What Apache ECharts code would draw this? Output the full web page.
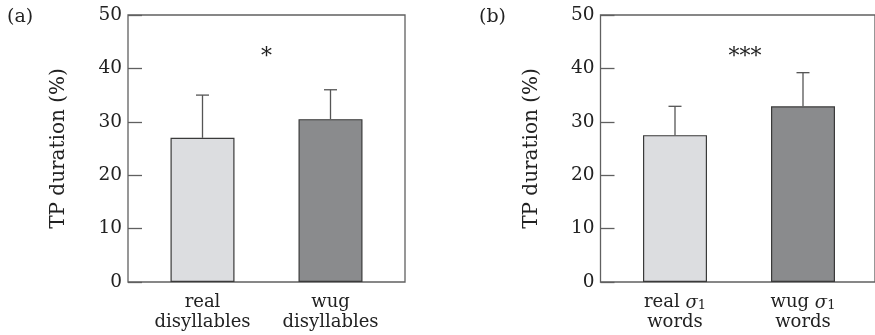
<!DOCTYPE html>
<html>
<head>
<meta charset="utf-8">
<script src="https://cdn.jsdelivr.net/npm/echarts@6/dist/echarts.min.js"></script>
<style>
  html, body { margin: 0; padding: 0; background: #fff; }
  #chart { width: 875px; height: 335px; }
</style>
</head>
<body>
<div id="chart"></div>
<script>
// Panel (a): disyllables
const catsA = ['real\ndisyllables', 'wug\ndisyllables'];
const meanA = [27, 30.5];
const upperA = [35, 36];
const sigA = '*';

// Panel (b): σ1 words
const catsB = ['real {s|σ}{sub|1}\nwords', 'wug {s|σ}{sub|1}\nwords'];
const meanB = [27.5, 32.9];
const upperB = [32.9, 39.2];
const sigB = '***';

// Y axis ticks
const yTicks = [0, 10, 20, 30, 40, 50];

const FONT = 'DejaVu Serif';
const barFills = ['#dcdde0', '#8a8b8d'];
const lineCol = '#606060';

const chart = echarts.init(document.getElementById('chart'), null, { renderer: 'canvas' });

function errRender(params, api) {
  const idx = api.value(0);
  const hi = api.coord([idx, api.value(1)]);
  const lo = api.coord([idx, api.value(2)]);
  const cap = 6.5;
  const st = { stroke: '#555', lineWidth: 1.3 };
  return {
    type: 'group',
    children: [
      { type: 'line', shape: { x1: hi[0], y1: hi[1], x2: lo[0], y2: lo[1] }, style: st },
      { type: 'line', shape: { x1: hi[0] - cap, y1: hi[1], x2: hi[0] + cap, y2: hi[1] }, style: st }
    ]
  };
}

// Category axis of the bar area (labels only)
function catAxis(gridIndex, cats) {
  return {
    type: 'category', gridIndex, data: cats,
    axisLine: { show: false }, axisTick: { show: false },
    axisLabel: {
      interval: 0, hideOverlap: false,
      fontFamily: FONT, fontSize: 18, color: '#222', margin: 10, lineHeight: 20,
      rich: {
        s: { fontFamily: FONT, fontSize: 18, fontStyle: 'italic', color: '#222', verticalAlign: 'bottom' },
        sub: { fontFamily: FONT, fontSize: 13, color: '#222', verticalAlign: 'bottom', lineHeight: 8 }
      }
    }
  };
}

// Hidden value axis of the bar area, same scale as the framed axis
function hiddenVal(gridIndex) {
  return { type: 'value', gridIndex, show: false, min: yTicks[0], max: yTicks[yTicks.length - 1] };
}

// Visible value axis on the framed box
function frameVal(gridIndex) {
  return {
    type: 'value', gridIndex, min: yTicks[0], max: yTicks[yTicks.length - 1], interval: 10,
    name: 'TP duration (%)', nameLocation: 'middle', nameRotate: 90, nameGap: 59,
    nameTextStyle: { fontFamily: FONT, fontSize: 20, color: '#222' },
    axisLine: { show: false },
    axisTick: { show: true, inside: true, length: 14, lineStyle: { color: lineCol, width: 1.3 } },
    axisLabel: { fontFamily: FONT, fontSize: 18.5, color: '#222', margin: 6 },
    splitLine: { show: false }
  };
}

function frameX(gridIndex) {
  return { type: 'value', gridIndex, show: false, min: 0, max: 1 };
}

function barSeries(xi, yi, means) {
  return {
    type: 'bar', xAxisIndex: xi, yAxisIndex: yi, barWidth: 64,
    data: means.map((v, i) => ({ value: v, itemStyle: { color: barFills[i] } })),
    itemStyle: { borderColor: '#3a3a3a', borderWidth: 1.2 },
    silent: true, z: 2
  };
}

function errSeries(xi, yi, means, uppers) {
  return {
    type: 'custom', xAxisIndex: xi, yAxisIndex: yi,
    data: means.map((m, i) => [i, uppers[i], m]),
    renderItem: errRender, silent: true, z: 3
  };
}

chart.setOption({
  animation: false,
  backgroundColor: '#fff',
  grid: [
    { left: 138.5, top: 15, width: 256, height: 267 },
    { left: 611, top: 15, width: 256, height: 267 },
    { left: 128, top: 15, width: 277, height: 267, show: true, borderColor: lineCol, borderWidth: 1.3, z: 1 },
    { left: 600.5, top: 15, width: 277, height: 267, show: true, borderColor: lineCol, borderWidth: 1.3, z: 1 }
  ],
  xAxis: [catAxis(0, catsA), catAxis(1, catsB), frameX(2), frameX(3)],
  yAxis: [hiddenVal(0), hiddenVal(1), frameVal(2), frameVal(3)],
  series: [
    barSeries(0, 0, meanA), errSeries(0, 0, meanA, upperA),
    barSeries(1, 1, meanB), errSeries(1, 1, meanB, upperB)
  ],
  graphic: [
    { type: 'text', left: 7, top: 8, style: { text: '(a)', font: '19px "DejaVu Serif"', fill: '#222' } },
    { type: 'text', left: 479, top: 8, style: { text: '(b)', font: '19px "DejaVu Serif"', fill: '#222' } },
    { type: 'text', x: 266.5, y: 57, style: { text: sigA, font: '22px "DejaVu Serif"', fill: '#222', align: 'center', verticalAlign: 'middle' } },
    { type: 'text', x: 745, y: 57, style: { text: sigB, font: '22px "DejaVu Serif"', fill: '#222', align: 'center', verticalAlign: 'middle' } }
  ]
});
</script>
</body>
</html>
